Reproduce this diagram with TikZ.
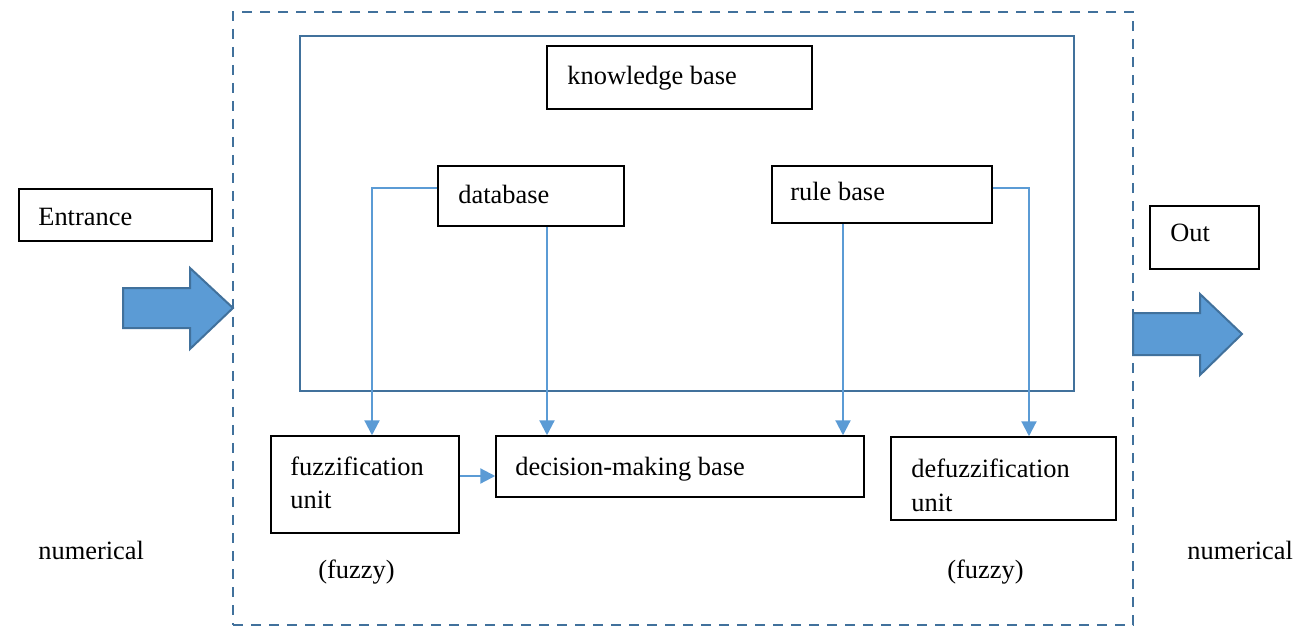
\documentclass[tikz,border=0pt]{standalone}
\usepackage{fontspec}
\setmainfont{Liberation Serif}
\usetikzlibrary{arrows.meta}
\definecolor{steel}{HTML}{41719C}
\definecolor{lblue}{HTML}{5B9BD5}
\begin{document}
\begin{tikzpicture}[x=0.5pt,y=-0.5pt,
  box/.style={draw=black,line width=0.75pt,inner sep=0pt},
  txt/.style={anchor=base west,inner sep=0pt,font=\fontsize{13.2}{15}\selectfont},
  conn/.style={draw=lblue,line width=1.1pt,-{Triangle[width=7.5pt,length=7.5pt]}},
  blockarrow/.style={fill=lblue,draw=steel,line width=1pt,line join=miter}]
\useasboundingbox (0,0) rectangle (1296,626);
% outer dashed frame
\node[draw=steel,line width=1.2pt,dash pattern=on 5pt off 4pt,minimum width=450pt,minimum height=306.5pt,inner sep=0pt] (outer) at (683,318.5) {};
% knowledge base frame
\node[draw=steel,line width=1pt,minimum width=387pt,minimum height=177.5pt,inner sep=0pt] (kbf) at (687,213.5) {};
% boxes
\node[box,minimum width=132.5pt,minimum height=31.5pt] (kb) at (679.5,77.5) {};
\node[box,minimum width=93pt,minimum height=30pt] (db) at (531,196) {};
\node[box,minimum width=110pt,minimum height=28.5pt] (rb) at (882,194.5) {};
\node[box,minimum width=96.5pt,minimum height=26pt] (ent) at (115.5,215) {};
\node[box,minimum width=54.5pt,minimum height=31.5pt] (out) at (1204.5,237.5) {};
\node[box,minimum width=94pt,minimum height=48.5pt] (fz) at (365,484.5) {};
\node[box,minimum width=184pt,minimum height=30.5pt] (dm) at (680,466.5) {};
\node[box,minimum width=112.5pt,minimum height=41.5pt] (dfz) at (1003.5,478.5) {};
% texts
\node[txt] (tkb) at (567,85) {knowledge base};
\node[txt] (tdb) at (458,203) {database};
\node[txt] (trb) at (790,200) {rule base};
\node[txt] (tent) at (38,225) {Entrance};
\node[txt] (tout) at (1170,242) {Out};
\node[txt] (tfz1) at (290,475) {fuzzification};
\node[txt] (tfz2) at (290,508) {unit};
\node[txt] (tdm) at (515,475) {decision-making base};
\node[txt] (tdfz1) at (911,477) {defuzzification};
\node[txt] (tdfz2) at (911,511) {unit};
\node[txt] (tnum1) at (38,559) {numerical};
\node[txt] (tnum2) at (1187,559) {numerical};
\node[txt] (tfy1) at (318,578) {(fuzzy)};
\node[txt] (tfy2) at (947,578) {(fuzzy)};
% connectors
\coordinate (c1) at (372,188);
\coordinate (c2) at (1029,188);
\draw[conn] (db.west |- c1) -- (c1) -- (c1 |- fz.north);
\draw[conn] (db.south -| 547,0) -- (dm.north -| 547,0);
\draw[conn] (rb.south -| 843,0) -- (dm.north -| 843,0);
\draw[conn] (rb.east |- c2) -- (c2) -- (c2 |- dfz.north);
\draw[conn] (fz.east |- 0,476) -- (dm.west |- 0,476);
% block arrows
\draw[blockarrow] (123,288) -- (190,288) -- (190,268) -- (233,308) -- (190,349) -- (190,328) -- (123,328) -- cycle;
\draw[blockarrow] (1133,313) -- (1200,313) -- (1200,294) -- (1242,334) -- (1200,375) -- (1200,355) -- (1133,355) -- cycle;
\end{tikzpicture}
\end{document}
